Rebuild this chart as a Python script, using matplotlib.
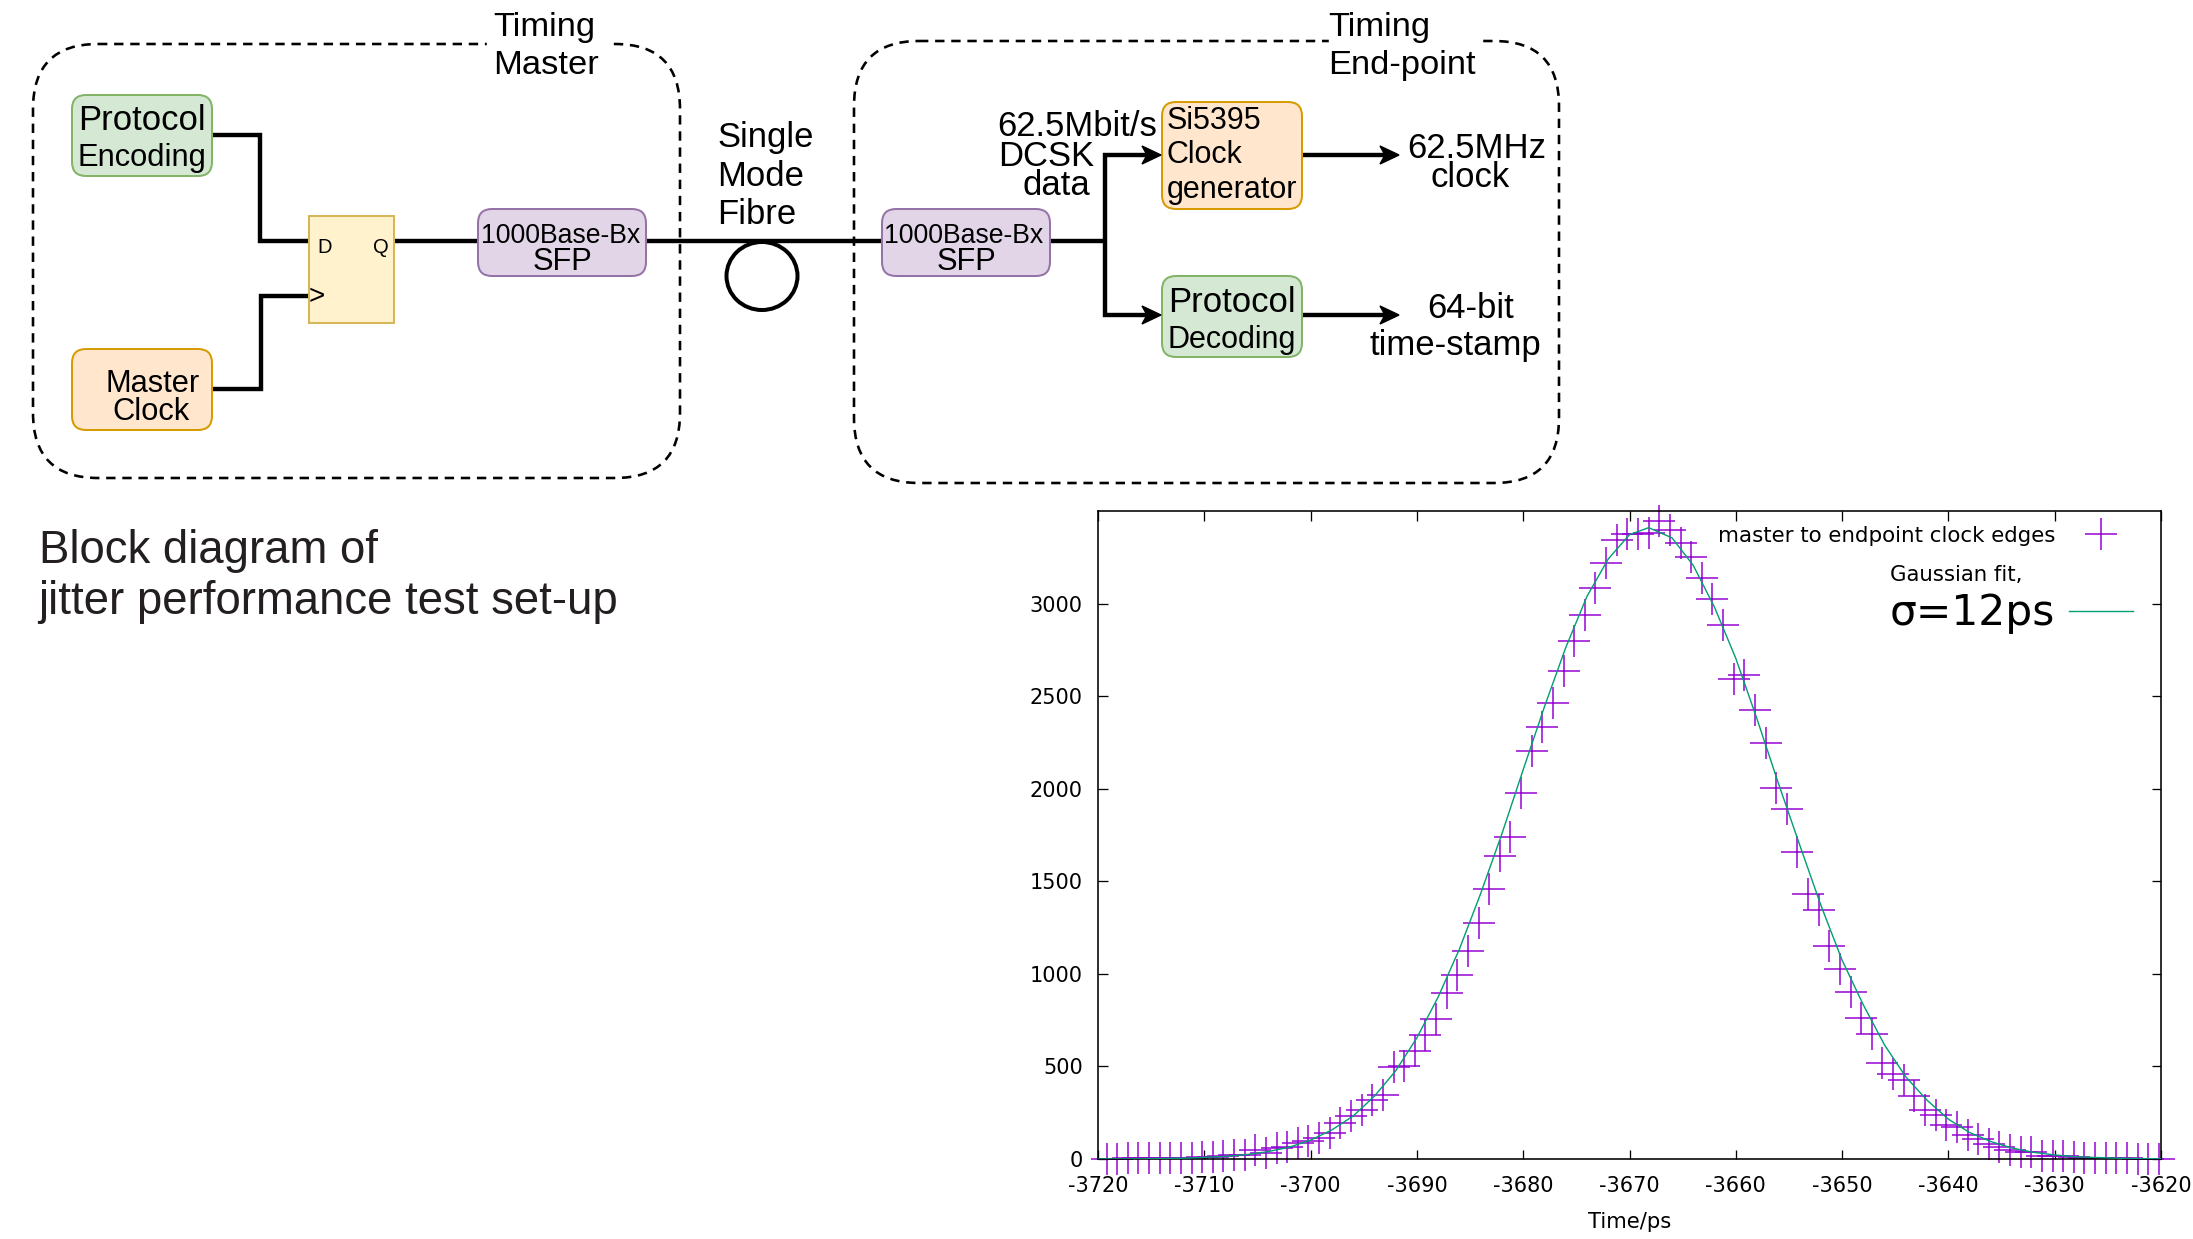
#!/usr/bin/env python3
"""Jitter test set-up: block diagram plus clock edge histogram with Gaussian fit."""

from __future__ import annotations

import matplotlib

matplotlib.use("Agg")
import matplotlib.pyplot as plt
from matplotlib.patches import Ellipse, FancyBboxPatch, Polygon, Rectangle

WIDTH, HEIGHT = 2193, 1239

# histogram, one bin per ps
first_bin = -3719.2
edge_counts = [
    1, 1, 3, 3, 3, 6, 6, 8, 6, 10,
    10, 17, 21, 24, 46, 35, 57, 64, 89, 95,
    113, 138, 197, 230, 267, 318, 348, 496, 502, 586,
    671, 755, 896, 995, 1121, 1277, 1457, 1638, 1739, 1979,
    2202, 2332, 2465, 2638, 2796, 2938, 3084, 3219, 3345, 3376,
    3378, 3381, 3446, 3396, 3325, 3250, 3136, 3023, 2884, 2594,
    2616, 2423, 2247, 2004, 1890, 1658, 1430, 1343, 1152, 1026,
    902, 760, 673, 517, 457, 428, 338, 265, 239, 185,
    173, 131, 110, 79, 65, 50, 36, 36, 18, 14,
    14, 12, 7, 6, 6, 4, 3, 1, 0, 0,
]
edge_times = [first_bin + i for i in range(len(edge_counts))]

# fit curve
fit_times = [
    -3720, -3716, -3712, -3708, -3706, -3704, -3702, -3700, -3698, -3696,
    -3694, -3692, -3690, -3688, -3686, -3684, -3682, -3680, -3678, -3676,
    -3674, -3672, -3670, -3668.2, -3666, -3664, -3662, -3660, -3658, -3656,
    -3654, -3652, -3650, -3648, -3646, -3644, -3642, -3640, -3638, -3636,
    -3634, -3632, -3630, -3628, -3624, -3620,
]
fit_counts = [
    0, 1, 4, 14, 24, 40, 64, 102, 157, 232,
    339, 476, 655, 875, 1134, 1434, 1757, 2103, 2443, 2762,
    3039, 3241, 3372, 3410, 3355, 3206, 2980, 2704, 2376, 2030,
    1698, 1371, 1074, 832, 615, 443, 317, 215, 143, 94,
    59, 36, 22, 12, 4, 1,
]

x_ticks = list(range(-3720, -3619, 10))
y_ticks = list(range(0, 3001, 500))

VIOLET = "#9400d3"
TEAL = "#009e73"
GREEN = ("#d5e8d4", "#82b366")
ORANGE = ("#ffe6cc", "#d79b00")
PURPLE = ("#e1d5e7", "#9673a6")
YELLOW = ("#fff2cc", "#d6b656")
SANS = "Liberation Sans"
PX = 0.72  # points per pixel at dpi=100


def label(ax, x, baseline, text, size, ha="left", family=SANS, color="black"):
    ax.text(x, baseline, text, fontsize=size, ha=ha, va="baseline",
            family=family, color=color, zorder=6)


def round_box(ax, x0, y0, x1, y1, colours, radius=14, lw=2.0):
    ax.add_patch(FancyBboxPatch(
        (x0 + radius, y0 + radius), x1 - x0 - 2 * radius, y1 - y0 - 2 * radius,
        boxstyle=f"round,pad={radius},rounding_size={radius}",
        facecolor=colours[0], edgecolor=colours[1], linewidth=lw * PX, zorder=3))


def dashed_box(ax, x0, y0, x1, y1, radius=65):
    ax.add_patch(FancyBboxPatch(
        (x0 + radius, y0 + radius), x1 - x0 - 2 * radius, y1 - y0 - 2 * radius,
        boxstyle=f"round,pad={radius},rounding_size={radius}", fill=False,
        edgecolor="black", linewidth=2.6 * PX, linestyle=(0, (3.6, 2.6)), zorder=1))


def wire(ax, xs, ys):
    ax.plot(xs, ys, color="black", lw=4.4 * PX, solid_joinstyle="miter",
            solid_capstyle="butt", zorder=2)


def arrow_head(ax, x, y):
    ax.add_patch(Polygon([(x, y), (x - 19, y - 9), (x - 14, y), (x - 19, y + 9)],
                         closed=True, color="black", zorder=4))


def draw_diagram(ax):
    dashed_box(ax, 33, 44, 680, 478)
    dashed_box(ax, 854, 41, 1559, 483)
    # title text breaks the dashed outline
    ax.add_patch(Rectangle((487, 30), 123, 30, color="white", zorder=1.5))
    ax.add_patch(Rectangle((1329, 30), 149, 30, color="white", zorder=1.5))

    wire(ax, [212, 260, 260, 309], [135, 135, 241, 241])
    wire(ax, [212, 261, 261, 309], [389, 389, 296, 296])
    wire(ax, [394, 479], [241, 241])
    wire(ax, [646, 882], [241, 241])
    wire(ax, [1050, 1105], [241, 241])
    wire(ax, [1146, 1105, 1105, 1146], [155, 155, 315, 315])
    wire(ax, [1302, 1385], [155, 155])
    wire(ax, [1302, 1385], [315, 315])
    for x, y in [(1161, 155), (1161, 315), (1399, 155), (1399, 315)]:
        arrow_head(ax, x, y)

    ax.add_patch(Ellipse((762, 276), 71, 68, fill=False, edgecolor="black",
                         linewidth=4 * PX, zorder=2))

    round_box(ax, 72, 95, 212, 176, GREEN)
    round_box(ax, 72, 349, 212, 430, ORANGE)
    round_box(ax, 478, 209, 646, 276, PURPLE)
    round_box(ax, 882, 209, 1050, 276, PURPLE)
    round_box(ax, 1162, 102, 1302, 209, ORANGE)
    round_box(ax, 1162, 276, 1302, 357, GREEN)
    ax.add_patch(Rectangle((309, 216), 85, 107, facecolor=YELLOW[0],
                           edgecolor=YELLOW[1], linewidth=2 * PX, zorder=3))

    label(ax, 493, 36, "Timing", 24.8)
    label(ax, 493, 74, "Master", 24.8)
    label(ax, 1328, 36, "Timing", 24.8)
    label(ax, 1328, 74, "End-point", 24.8)

    label(ax, 78, 130, "Protocol", 24.9)
    label(ax, 78, 166, "Encoding", 22.2)
    label(ax, 106, 392, "Master", 22.2)
    label(ax, 112, 420, "Clock", 22.2)
    label(ax, 317, 253, "D", 14.5)
    label(ax, 373, 253, "Q", 14.5)
    label(ax, 309, 304, ">", 20)
    label(ax, 481, 243, "1000Base-Bx", 19.2)
    label(ax, 533, 270, "SFP", 22.2)
    label(ax, 884, 243, "1000Base-Bx", 19.2)
    label(ax, 937, 270, "SFP", 22.2)

    label(ax, 717, 147, "Single", 24.9)
    label(ax, 717, 186, "Mode", 24.9)
    label(ax, 717, 224, "Fibre", 24.9)

    label(ax, 997, 136, "62.5Mbit/s", 24.9)
    label(ax, 998, 166, "DCSK", 24.9)
    label(ax, 1023, 195, "data", 24.9)

    label(ax, 1167, 129, "Si5395", 22)
    label(ax, 1167, 163, "Clock", 22)
    label(ax, 1167, 198, "generator", 22)
    label(ax, 1168, 312, "Protocol", 25)
    label(ax, 1168, 348, "Decoding", 22)

    label(ax, 1407, 158, "62.5MHz", 25)
    label(ax, 1430, 187, "clock", 25)
    label(ax, 1427, 318, "64-bit", 25)
    label(ax, 1370, 355, "time-stamp", 25)

    label(ax, 39, 563, "Block diagram of", 32.8, color="#231f20")
    label(ax, 38, 614, "jitter performance test set-up", 32.8, color="#231f20")


def draw_histogram(fig):
    left, right, top, bottom = 1098, 2161, 511, 1159
    ax = fig.add_axes([left / WIDTH, 1 - bottom / HEIGHT,
                       (right - left) / WIDTH, (bottom - top) / HEIGHT])
    ax.plot(fit_times, fit_counts, color=TEAL, lw=1.4 * PX, zorder=3)
    ax.plot(edge_times, edge_counts, linestyle="none", marker="+", color=VIOLET,
            markersize=32 * PX, markeredgewidth=1.5 * PX, clip_on=False, zorder=2)
    ax.set_xlim(-3720, -3620)
    ax.set_ylim(0, 3500)
    ax.set_xticks(x_ticks)
    ax.set_yticks(y_ticks)
    ax.tick_params(direction="in", length=9.5 * PX, width=1.3 * PX, top=True,
                   right=True, labelsize=15)
    ax.tick_params(axis="x", pad=12)
    ax.tick_params(axis="y", pad=11)
    ax.set_xlabel("Time/ps", fontsize=15.2, labelpad=12)
    for spine in ax.spines.values():
        spine.set_linewidth(1.6 * PX)
    return ax


def draw_plot_key(ax):
    ax.text(2055, 542, "master to endpoint clock edges", fontsize=15.4, ha="right",
            va="baseline", family="DejaVu Sans", zorder=6)
    ax.plot([2101], [534], linestyle="none", marker="+", color=VIOLET,
            markersize=32 * PX, markeredgewidth=1.5 * PX)
    ax.text(1890, 581, "Gaussian fit,", fontsize=15.3, va="baseline",
            family="DejaVu Sans", zorder=6)
    ax.text(1890, 625, "σ=12ps", fontsize=30.5, va="baseline",
            family="DejaVu Sans", zorder=6)
    ax.plot([2069, 2133], [611, 611], color=TEAL, lw=1.4 * PX)


def main() -> None:
    plt.rcParams["axes.unicode_minus"] = False
    fig = plt.figure(figsize=(WIDTH / 100, HEIGHT / 100), dpi=100)
    draw_histogram(fig)

    overlay = fig.add_axes([0, 0, 1, 1], facecolor="none")
    overlay.set_xlim(0, WIDTH)
    overlay.set_ylim(HEIGHT, 0)
    overlay.axis("off")
    draw_diagram(overlay)
    draw_plot_key(overlay)

    fig.savefig("out.png", dpi=100)


if __name__ == "__main__":
    main()
